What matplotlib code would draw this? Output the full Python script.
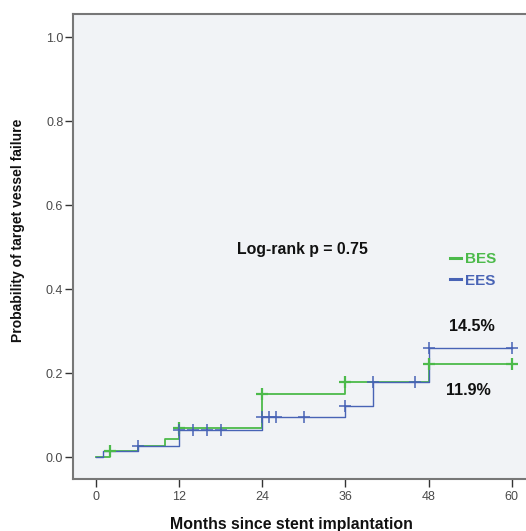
import matplotlib
matplotlib.use("Agg")
import matplotlib.pyplot as plt
from matplotlib.lines import Line2D

# ---- data ----
bes_times = [0, 2, 6, 10, 12, 24, 36, 48, 60]
bes_vals = [0.0, 0.014, 0.026, 0.043, 0.070, 0.150, 0.178, 0.221, 0.221]
bes_cens_t = [2, 12, 24, 36, 48, 60]
bes_cens_v = [0.014, 0.070, 0.150, 0.178, 0.221, 0.221]

ees_times = [0, 1, 6, 12, 24, 36, 40, 48, 60]
ees_vals = [0.0, 0.014, 0.026, 0.064, 0.096, 0.122, 0.179, 0.259, 0.259]
ees_cens_t = [6, 12, 14, 16, 18, 24, 25, 26, 30, 36, 40, 46, 48, 60]
ees_cens_v = [0.026, 0.064, 0.064, 0.064, 0.064, 0.096, 0.096, 0.096, 0.096,
              0.122, 0.179, 0.179, 0.259, 0.259]

x_ticks = [0, 12, 24, 36, 48, 60]
y_ticks = [0.0, 0.2, 0.4, 0.6, 0.8, 1.0]
y_tick_labels = ["0.0", "0.2", "0.4", "0.6", "0.8", "1.0"]

GREEN = "#4cba4a"
BLUE = "#4863b5"

plt.rcParams['font.family'] = ['Liberation Sans', 'DejaVu Sans']

fig = plt.figure(figsize=(5.26, 5.31), dpi=100)
ax = fig.add_axes([73/526, (531-479)/531, (540-73)/526, (479-14)/531])
ax.set_facecolor("#f1f3f6")

ax.step(bes_times, bes_vals, where="post", color=GREEN, lw=1.3, zorder=3)
ax.step(ees_times, ees_vals, where="post", color=BLUE, lw=1.0, zorder=3)
ax.plot(bes_cens_t, bes_cens_v, ls="none", marker="+", ms=8, mew=1.6,
        color=GREEN, zorder=4)
ax.plot(ees_cens_t, ees_cens_v, ls="none", marker="+", ms=8, mew=1.1,
        color=BLUE, zorder=4)

ax.set_xlim(-3.32, 64.07)
ax.set_ylim(-0.052, 1.055)
ax.set_xticks(x_ticks)
ax.set_yticks(y_ticks)
ax.set_yticklabels(y_tick_labels)
ax.tick_params(axis="both", direction="out", length=6, width=1.0,
               color="#333333", labelcolor="#4a4a4a", labelsize=9)
ax.tick_params(axis="y", pad=1.0)
ax.tick_params(axis="x", pad=3.0)
for s in ["left", "bottom", "top", "right"]:
    ax.spines[s].set_color("#777777")
    ax.spines[s].set_linewidth(1.5)

ax.set_xlabel("Months since stent implantation", fontsize=11.4,
              fontweight="bold", color="#111111")
ax.xaxis.set_label_coords(0.467, -0.081)
ax.set_ylabel("Probability of target vessel failure", fontsize=10,
              fontweight="bold", color="#111111")
ax.yaxis.set_label_coords(-0.103, 0.535)

ax.text(20.3, 0.495, "Log-rank p = 0.75", fontsize=11.4, fontweight="bold",
        color="#111111", ha="left", va="center")
ax.text(54.3, 0.311, "14.5%", fontsize=11.6, fontweight="bold",
        color="#111111", ha="center", va="center")
ax.text(53.8, 0.159, "11.9%", fontsize=11.6, fontweight="bold",
        color="#111111", ha="center", va="center")

handles = [Line2D([], [], color=GREEN, lw=2.2),
           Line2D([], [], color=BLUE, lw=2.2)]
leg = ax.legend(handles, ["BES", "EES"], loc="upper left",
                bbox_to_anchor=((450-73)/467, (479-252)/465),
                frameon=False, handlelength=0.7, handletextpad=0.3,
                labelspacing=0.5, borderpad=0, borderaxespad=0,
                prop={"weight": "bold", "size": 11}, labelcolor="linecolor")

fig.savefig("out.png", dpi=100)
